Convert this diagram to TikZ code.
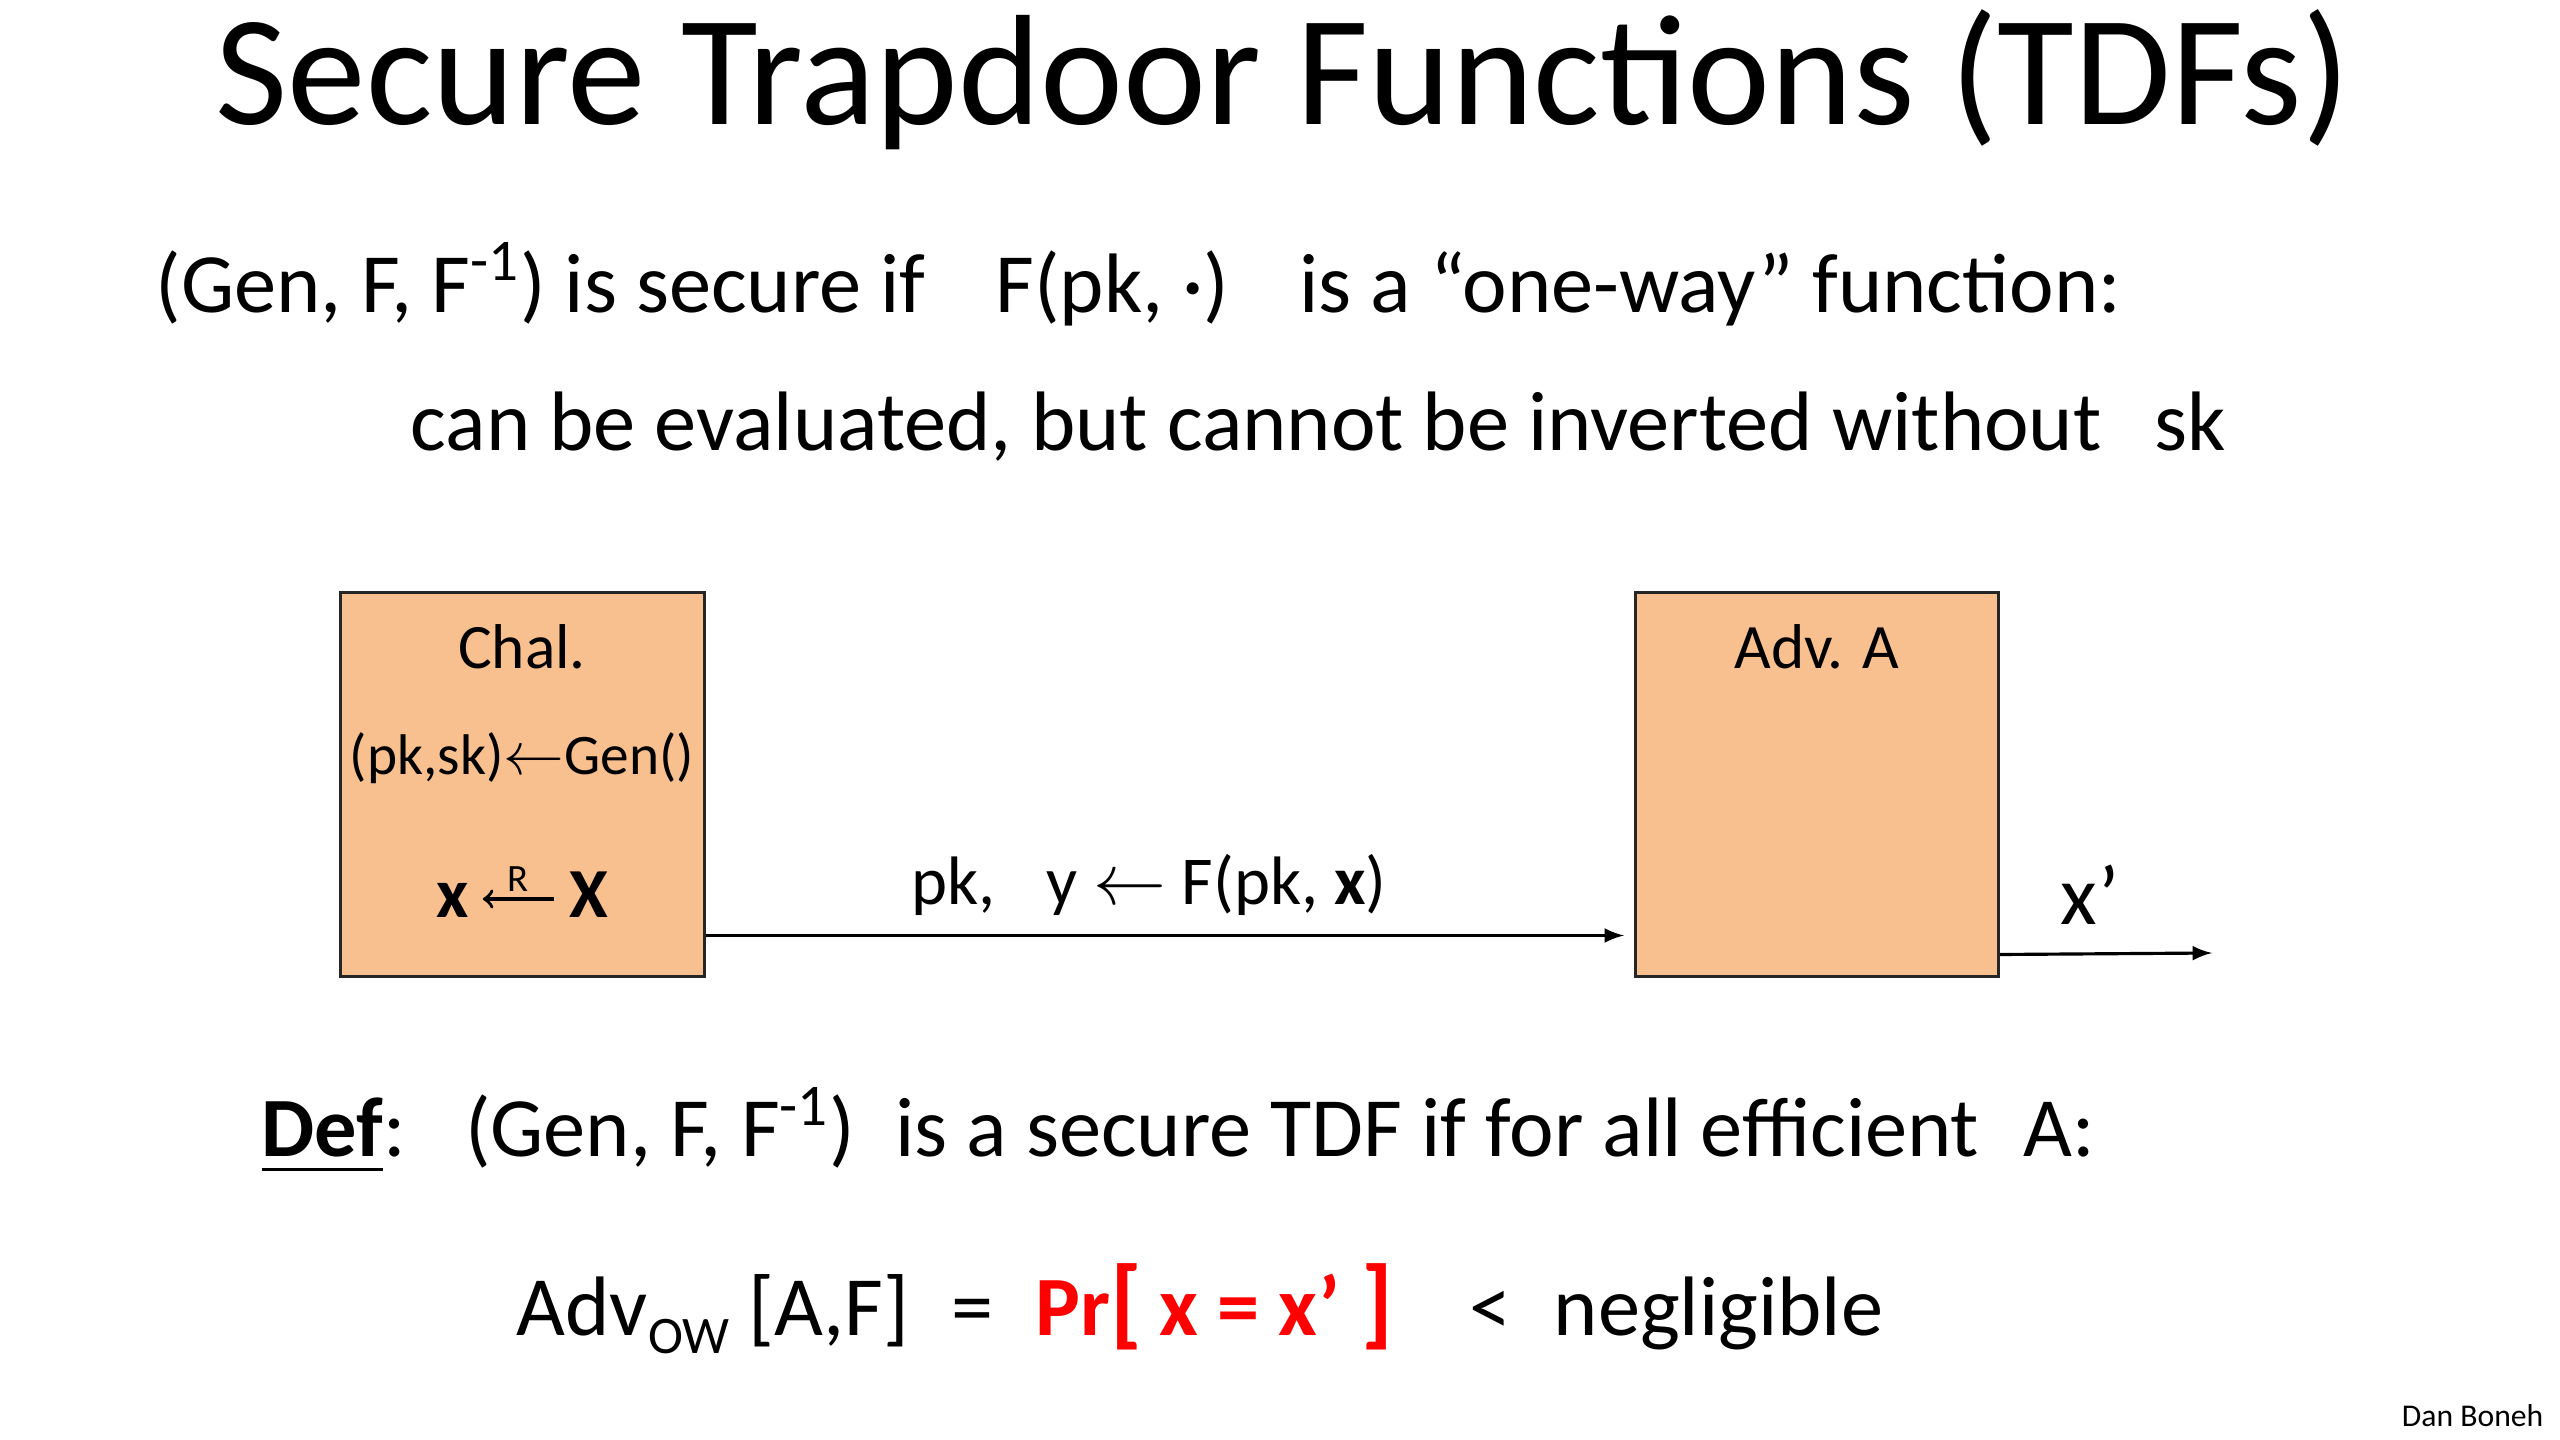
\documentclass[tikz,border=0pt]{standalone}
\usepackage{amsmath}
\usepackage{fontspec}
\setmainfont{Carlito}
\usetikzlibrary{arrows, positioning}
\definecolor{peach}{RGB}{248,191,143}
\definecolor{prred}{RGB}{255,0,0}

\begin{document}
\begin{tikzpicture}[x=0.01cm, y=-0.01cm,
    party/.style={rectangle, draw=black!85, fill=peach, line width=0.8pt,
      minimum width=3.63cm, minimum height=3.83cm, inner sep=0pt},
    line/.style={font=\fontsize{24}{29}\selectfont, inner sep=0pt, anchor=west},
    small/.style={font=\fontsize{18}{22}\selectfont, inner sep=0pt},
    pick/.style={font=\bfseries\fontsize{20}{24}\selectfont, inner sep=0pt, anchor=base},
    msg/.style={->, >=latex, line width=0.9pt}
]
\useasboundingbox (0,0) rectangle (2560,1440);

\node[font=\fontsize{44.7}{52}\selectfont] (title) at (1283,80) {Secure Trapdoor Functions (TDFs)};

\node[line] (secure) at (155,284) {(Gen, F, F\textsuperscript{-1}) is secure if\hspace{0.6em} F(pk, ·)\hspace{0.6em} is a “one-way” function:};
\node[line] (oneway) at (410,427) {can be evaluated, but cannot be inverted without\hspace{0.4em} sk};

% the two parties
\node[party] (chalbox) at (522.5,784.5) {};
\node[party] (advbox) at (1817,784.5) {};

\node[small] (chal) at (522,647) {Chal.};
\node[small, font=\fontsize{16.3}{20}\selectfont] (gen) at (522,758) {(pk,sk)${\leftarrow}$Gen()};
\node[pick] (xs) at (453,918) {x};
\node[pick] (bigx) at (589,918) {X};
\draw[-to, line width=1pt] ([yshift=0.19cm, xshift=-0.15cm]bigx.base west) -- ([yshift=0.19cm, xshift=0.13cm]xs.base east)
  node[midway, above=0.06cm, inner sep=0pt, font=\fontsize{11}{13}\selectfont] (rnd) {R};
\node[small] (adv) at (1817,647) {Adv. A};

% messages
\coordinate (out) at (2212,953);
\draw[msg] ([yshift=0.42cm]chalbox.south east) -- ([yshift=0.42cm, xshift=-0.1cm]advbox.south west)
  node[pos=0.5, above=0.18cm, small, font=\fontsize{19.5}{24}\selectfont, xshift=-0.16cm] (ylabel) {pk,\hspace{0.75em}y $\leftarrow$ F(pk, \textbf{x})};
\draw[msg] ([yshift=0.23cm]advbox.south east) -- (out);
\node[small, font=\fontsize{24}{29}\selectfont] (xprime) at (2090,895) {x’};

% definition
\node[line] (def) at (261,1131) {\underline{\textbf{Def}}:\hspace{0.7em}(Gen, F, F\textsuperscript{-1})\hspace{0.25em} is a secure TDF if for all efficient\hspace{0.3em} A:};
\node[line] (advow) at (516,1309) {Adv\raisebox{-5pt}{\fontsize{15}{15}\selectfont OW} [A,F]\hspace{0.5em}=\hspace{0.5em}\textcolor{prred}{\bfseries Pr{\fontsize{28}{28}\selectfont[}\hspace{0.2em}x = x’\hspace{0.25em}{\fontsize{28}{28}\selectfont]}}\hspace{0.9em}<\hspace{0.5em}negligible};

\node[font=\fontsize{9}{11}\selectfont, anchor=east, inner sep=0pt] (author) at (2544,1416) {Dan Boneh};
\end{tikzpicture}
\end{document}
